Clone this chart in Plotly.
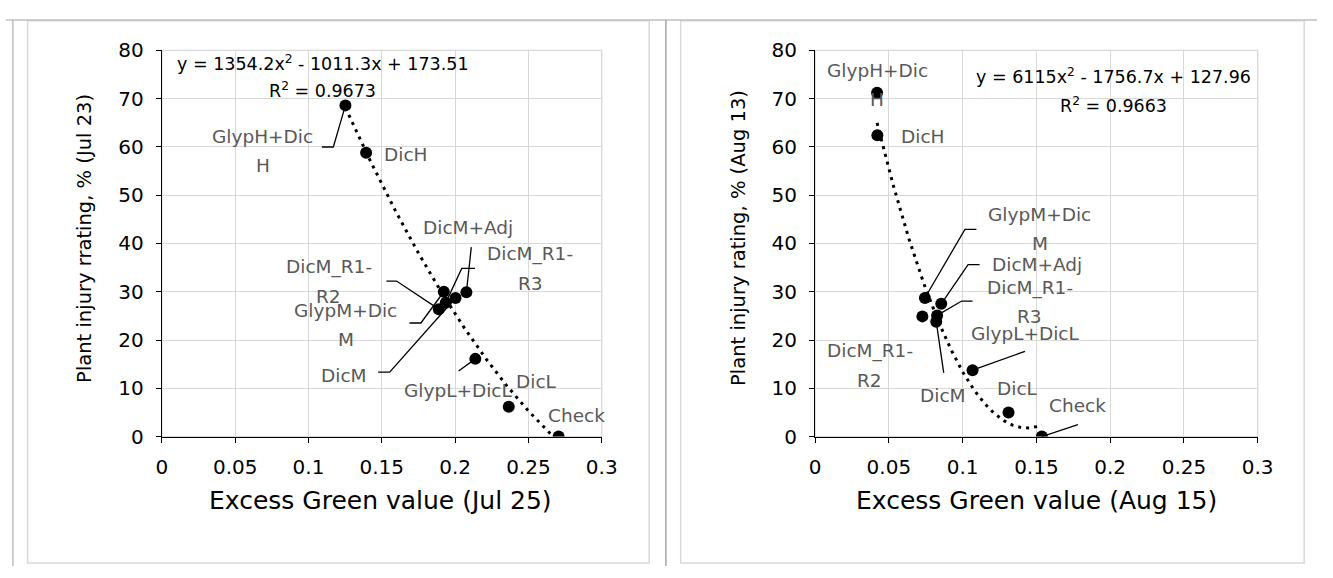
import numpy as np
import plotly.graph_objects as go

W, H = 1333, 578
FONT = "DejaVu Sans"

# ---------------- data ----------------
treatments = ["GlypH+DicH", "DicH", "GlypM+DicM", "DicM_R1-R2", "DicM_R1-R3",
              "DicM", "DicM+Adj", "GlypL+DicL", "DicL", "Check"]
label_lines = [["GlypH+Dic", "H"], ["DicH"], ["GlypM+Dic", "M"], ["DicM_R1-", "R2"],
               ["DicM_R1-", "R3"], ["DicM"], ["DicM+Adj"], ["GlypL+DicL"], ["DicL"], ["Check"]]

exg_jul25 = [0.1252, 0.1393, 0.1923, 0.1889, 0.1936, 0.2003, 0.2077, 0.2138, 0.2366, 0.2706]
injury_jul23 = [68.6, 58.8, 30.0, 26.4, 27.7, 28.7, 29.9, 16.1, 6.2, 0.0]

exg_aug15 = [0.0420, 0.0422, 0.0744, 0.0727, 0.0827, 0.0821, 0.0855, 0.1067, 0.1311, 0.1537]
injury_aug13 = [71.2, 62.4, 28.7, 24.9, 25.1, 23.8, 27.5, 13.75, 5.0, 0.0]

trend_jul = [1354.2, -1011.3, 173.51]
r2_jul = 0.9673
trend_aug = [6115, -1756.7, 127.96]
r2_aug = 0.9663

x_tickvals = [0, 0.05, 0.1, 0.15, 0.2, 0.25, 0.3]
x_ticktext = ["0", "0.05", "0.1", "0.15", "0.2", "0.25", "0.3"]
y_tickvals = [0, 10, 20, 30, 40, 50, 60, 70, 80]
y_ticktext = ["0", "10", "20", "30", "40", "50", "60", "70", "80"]

x_titles = ["Excess Green value (Jul 25)", "Excess Green value (Aug 15)"]
y_titles = ["Plant injury rrating, % (Jul 23)", "Plant injury rating, % (Aug 13)"]

# ---------------- layout / style (pixels) ----------------
PLOT_Y_TOP, PLOT_Y_BOT = 40.0, 443.0
panels = [
    dict(x=exg_jul25, y=injury_jul23, coef=trend_jul, r2=r2_jul, px0=158.5, px1=605.7,
         xa="x", ya="y", eq_cx=322, eq_y=(53.3, 81.7), xt_cx=381, yt_cx=80,
         # label offsets (dx, dy) of text block centre relative to point, screen px
         lab=[(-82.5, 45.2), (39, 2.3), (-98.3, 33.3), (-110, -27.5), (84.5, -34.3),
              (-112, 77.4), (2, -65), (-17, 31.6), (27.7, -25), (18.3, -21)],
         lead=[[(0, 0), (-12.3, 43.4), (-24, 43.4)], None,
               [(0, 0), (-23.3, 32.6), (-35, 32.6)],
               [(0, 0), (-43, -29.3), (-53.3, -29.3)],
               [(0, 0), (16.3, -36), (29.7, -36)],
               [(0, 0), (-67, 77.4), (-78.7, 77.4)],
               [(0, 0), (5, -47)],
               [(0, 0), (-17, 12.6)], None, None]),
    dict(x=exg_aug15, y=injury_aug13, coef=trend_aug, r2=r2_aug, px0=822.7, px1=1272.7,
         xa="x2", ya="y2", eq_cx=1126.5, eq_y=(66.7, 96.7), xt_cx=1048, yt_cx=744,
         lab=[(0, -8.2), (45.3, 1), (114.7, -69.3), (-52.4, 49.4), (92.8, -13.4),
              (6.5, 73.4), (95.3, -39.3), (53, -37), (9, -24.4), (35.4, -31.6)],
         lead=[None, None,
               [(0, 0), (40.7, -71.6), (52.4, -71.6)], None,
               [(0, 0), (25, -15), (36, -15)],
               [(0, 0), (7.6, 53.4)],
               [(0, 0), (27.3, -41), (39, -41)],
               [(0, 0), (53.3, -19.7)], None,
               [(0, 0), (36.7, -12.6)]]),
]

LINE_GAP = 29
LABEL_COLOR = "#595959"
GRID = "#d9d9d9"


def px_x(p):
    return p / W


def px_y(p):
    return 1 - p / H


fig = go.Figure()
annotations = []
shapes = []

for i, pn in enumerate(panels):
    xs, ys = pn["x"], pn["y"]
    kx = (pn["px1"] - pn["px0"]) / 0.3
    ky = (PLOT_Y_BOT - PLOT_Y_TOP) / 80.0
    a, b, c = pn["coef"]
    # trendline (polynomial shown in the chart's equation)
    tx = np.linspace(min(xs), max(xs), 200)
    ty = a * tx ** 2 + b * tx + c
    fig.add_trace(go.Scatter(x=tx, y=ty, mode="lines", xaxis=pn["xa"], yaxis=pn["ya"],
                             line=dict(color="black", width=3, dash="3px,5px"),
                             hoverinfo="skip", showlegend=False))
    # leader lines
    for j, ld in enumerate(pn["lead"]):
        if ld is None:
            continue
        lx = [xs[j] + dx / kx for dx, dy in ld]
        ly = [ys[j] - dy / ky for dx, dy in ld]
        fig.add_trace(go.Scatter(x=lx, y=ly, mode="lines", xaxis=pn["xa"], yaxis=pn["ya"],
                                 line=dict(color="black", width=1.3),
                                 hoverinfo="skip", showlegend=False))
    # markers
    fig.add_trace(go.Scatter(x=xs, y=ys, mode="markers", xaxis=pn["xa"], yaxis=pn["ya"],
                             marker=dict(color="black", size=12),
                             text=treatments, showlegend=False))
    # data labels
    for j, lines in enumerate(label_lines):
        dx, dy = pn["lab"][j]
        n = len(lines)
        for k, t in enumerate(lines):
            off = dy + (k - (n - 1) / 2) * LINE_GAP
            annotations.append(dict(x=xs[j], y=ys[j], xref=pn["xa"], yref=pn["ya"],
                                    text=t, showarrow=False, xshift=dx, yshift=-off,
                                    xanchor="center", yanchor="middle",
                                    font=dict(family=FONT, size=18.5, color=LABEL_COLOR)))
    # equation
    eq = f"y = {a:g}x<sup>2</sup> - {abs(b):g}x + {c:g}"
    r2t = f"R<sup>2</sup> = {pn['r2']:.4f}"
    for t, yy in zip([eq, r2t], pn["eq_y"]):
        annotations.append(dict(x=px_x(pn["eq_cx"]), y=px_y(yy), xref="paper", yref="paper",
                                text=t, showarrow=False, xanchor="center", yanchor="middle",
                                font=dict(family=FONT, size=17.5, color="black")))
    # axis titles
    annotations.append(dict(x=px_x(pn["xt_cx"]), y=px_y(510), xref="paper", yref="paper",
                            text=x_titles[i], showarrow=False, xanchor="center", yanchor="middle",
                            font=dict(family=FONT, size=25, color="black")))
    annotations.append(dict(x=px_x(pn["yt_cx"]), y=px_y(236), xref="paper", yref="paper",
                            text=y_titles[i], showarrow=False, xanchor="center", yanchor="middle",
                            textangle=-90, font=dict(family=FONT, size=19.5, color="black")))
    # plot-area border (gray)
    shapes.append(dict(type="rect", xref=f"{pn['xa']} domain", yref=f"{pn['ya']} domain",
                       x0=0, x1=1, y0=0, y1=1, line=dict(color=GRID, width=1.3), layer="below"))

axis_common = dict(showgrid=True, gridcolor=GRID, gridwidth=1.3, zeroline=False,
                   showline=True, linecolor="black", linewidth=1.3,
                   ticks="outside", ticklen=5, tickcolor="black", tickwidth=1.3,
                   tickfont=dict(family=FONT, size=20, color="black"), fixedrange=True)

layout_axes = {}
for i, pn in enumerate(panels):
    sfx = "" if i == 0 else "2"
    layout_axes["xaxis" + sfx] = dict(axis_common, domain=[px_x(pn["px0"]), px_x(pn["px1"])],
                                      range=[0, 0.3], tickvals=x_tickvals, ticktext=x_ticktext,
                                      anchor="y" + sfx, ticklabelstandoff=7)
    layout_axes["yaxis" + sfx] = dict(axis_common, domain=[px_y(PLOT_Y_BOT), px_y(PLOT_Y_TOP)],
                                      range=[0, 80], tickvals=y_tickvals, ticktext=y_ticktext,
                                      anchor="x" + sfx, ticklabelstandoff=8)

# frames around the two chart objects and the table lines
frame_col = "#d9d9d9"
table_col = "#bfbfbf"
shapes += [
    dict(type="rect", xref="paper", yref="paper", x0=px_x(22), x1=px_x(654),
         y0=px_y(575), y1=px_y(9), line=dict(color=frame_col, width=1.5), layer="below"),
    dict(type="rect", xref="paper", yref="paper", x0=px_x(686), x1=px_x(1320),
         y0=px_y(575), y1=px_y(9), line=dict(color=frame_col, width=1.5), layer="below"),
    dict(type="line", xref="paper", yref="paper", x0=0, x1=1, y0=px_y(8.3), y1=px_y(8.3),
         line=dict(color=table_col, width=1.5)),
    dict(type="line", xref="paper", yref="paper", x0=px_x(7), x1=px_x(7), y0=0, y1=px_y(8.3),
         line=dict(color=table_col, width=1.5)),
    dict(type="line", xref="paper", yref="paper", x0=px_x(671), x1=px_x(671), y0=0, y1=px_y(8.3),
         line=dict(color="#a6a6a6", width=1.5)),
]

fig.update_layout(width=W, height=H, margin=dict(l=0, r=0, t=0, b=0),
                  paper_bgcolor="white", plot_bgcolor="white", showlegend=False,
                  font=dict(family=FONT), annotations=annotations, shapes=shapes,
                  **layout_axes)

fig.write_html("out.html")
